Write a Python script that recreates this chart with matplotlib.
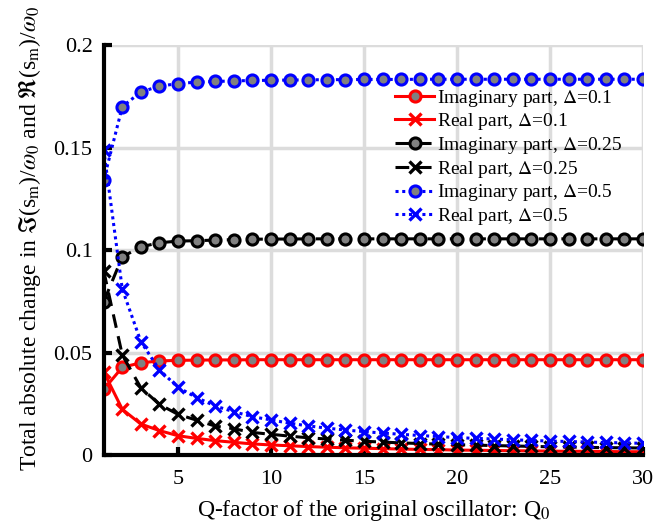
import numpy as np
import matplotlib
matplotlib.use("Agg")
import matplotlib.pyplot as plt

plt.rcParams['font.family'] = ['Liberation Serif', 'DejaVu Serif']
plt.rcParams['mathtext.fontset'] = 'stix'

# Q-factor of original oscillator
Q = np.arange(1, 31)

# Delta = 0.1
imag_01 = [0.0320, 0.0428, 0.0450, 0.0459, 0.0462, 0.0463, 0.0464, 0.0464, 0.0465, 0.0465,
           0.0465, 0.0465, 0.0465, 0.0465, 0.0465, 0.0465, 0.0465, 0.0465, 0.0465, 0.0465,
           0.0465, 0.0465, 0.0465, 0.0465, 0.0465, 0.0465, 0.0465, 0.0465, 0.0465, 0.0465]
real_01 = [0.0406, 0.0223, 0.0151, 0.0119, 0.0094, 0.0081, 0.0070, 0.0062, 0.0054, 0.0049,
           0.0045, 0.0041, 0.0038, 0.0035, 0.0033, 0.0031, 0.0029, 0.0027, 0.0026, 0.0024,
           0.0023, 0.0022, 0.0021, 0.0020, 0.0019, 0.0018, 0.0018, 0.0017, 0.0016, 0.0016]

# Delta = 0.25
imag_025 = [0.0748, 0.0967, 0.1016, 0.1036, 0.1044, 0.1046, 0.1049, 0.1051, 0.1053, 0.1054,
            0.1054, 0.1055, 0.1055, 0.1055, 0.1055, 0.1055, 0.1055, 0.1055, 0.1055, 0.1055,
            0.1055, 0.1055, 0.1055, 0.1055, 0.1055, 0.1055, 0.1055, 0.1055, 0.1055, 0.1055]
real_025 = [0.0899, 0.0488, 0.0328, 0.0247, 0.0198, 0.0170, 0.0141, 0.0128, 0.0110, 0.0101,
            0.0092, 0.0084, 0.0078, 0.0072, 0.0067, 0.0063, 0.0059, 0.0056, 0.0053, 0.0050,
            0.0048, 0.0046, 0.0044, 0.0042, 0.0040, 0.0039, 0.0037, 0.0036, 0.0035, 0.0034]

# Delta = 0.5
imag_05 = [0.1341, 0.1700, 0.1772, 0.1800, 0.1813, 0.1820, 0.1823, 0.1826, 0.1828, 0.1829,
           0.1830, 0.1831, 0.1832, 0.1832, 0.1833, 0.1833, 0.1833, 0.1834, 0.1834, 0.1834,
           0.1834, 0.1834, 0.1834, 0.1834, 0.1834, 0.1834, 0.1834, 0.1834, 0.1834, 0.1834]
real_05 = [0.1490, 0.0810, 0.0553, 0.0415, 0.0330, 0.0280, 0.0239, 0.0211, 0.0187, 0.0171,
           0.0155, 0.0142, 0.0131, 0.0122, 0.0114, 0.0107, 0.0101, 0.0095, 0.0090, 0.0085,
           0.0081, 0.0078, 0.0074, 0.0071, 0.0068, 0.0066, 0.0063, 0.0061, 0.0059, 0.0057]

yticks = [0, 0.05, 0.1, 0.15, 0.2]
ytick_labels = ['0', '0.05', '0.1', '0.15', '0.2']
xticks = [5, 10, 15, 20, 25, 30]

fig = plt.figure(figsize=(6.69, 5.26), dpi=100)
ax = fig.add_axes([0.155, 0.135, 0.806, 0.779])

lw = 2.2
dashed = (0, (4.5, 2.8))
dotted = (0, (1.0, 1.2))
o_style = dict(marker='o', markersize=8, markerfacecolor='#808080', markeredgewidth=2.2)
x_style = dict(marker='x', markersize=8.5, markeredgewidth=2.4)

ax.plot(Q, imag_01, color='red', lw=lw, ls='-', markeredgecolor='red',
        label=r'Imaginary part, $\Delta$=0.1', **o_style)
ax.plot(Q, real_01, color='red', lw=lw, ls='-',
        label=r'Real part, $\Delta$=0.1', **x_style)
ax.plot(Q, imag_025, color='black', lw=lw, ls=dashed, markeredgecolor='black',
        label=r'Imaginary part, $\Delta$=0.25', **o_style)
ax.plot(Q, real_025, color='black', lw=lw, ls=dashed,
        label=r'Real part, $\Delta$=0.25', **x_style)
ax.plot(Q, imag_05, color='blue', lw=lw, ls=dotted, markeredgecolor='blue',
        label=r'Imaginary part, $\Delta$=0.5', **o_style)
ax.plot(Q, real_05, color='blue', lw=lw, ls=dotted,
        label=r'Real part, $\Delta$=0.5', **x_style)

ax.set_xlim(1, 30)
ax.set_ylim(0, 0.2)
ax.set_xticks(xticks)
ax.set_yticks(yticks)
ax.set_yticklabels(ytick_labels)
ax.grid(True, color='#dcdcdc', lw=2.5)
ax.set_axisbelow(True)

for s in ['top', 'right']:
    ax.spines[s].set_visible(False)
for s in ['left', 'bottom']:
    ax.spines[s].set_linewidth(3)
ax.tick_params(direction='in', length=6, width=3, labelsize=16)
ax.tick_params(axis='x', pad=11)
ax.tick_params(axis='y', pad=8)

ax.set_xlabel('Q-factor of the original oscillator: Q$_0$', fontsize=17, labelpad=6)
ax.set_ylabel(r'Total absolute change in $\Im$(s$_\mathrm{m}$)/$\omega_0$ and $\Re$(s$_\mathrm{m}$)/$\omega_0$',
              fontsize=17)
ax.yaxis.set_label_coords(-0.112, 0.53)

leg = fig.legend(loc='upper left', bbox_to_anchor=(0.576, 0.852), frameon=False,
                 fontsize=14, handlelength=2.0, handletextpad=0.15, labelspacing=0.14,
                 borderpad=0)

fig.savefig('out.png', dpi=100)
